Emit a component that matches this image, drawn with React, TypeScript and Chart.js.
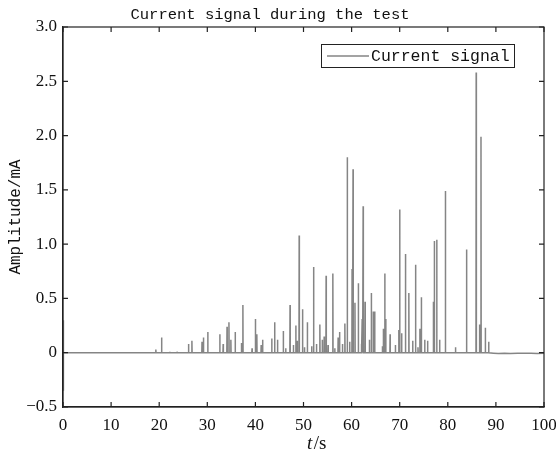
import React, { useEffect, useRef } from 'react';
import { Chart, registerables } from 'chart.js';

Chart.register(...registerables);

const titleText = 'Current signal during the test';
const seriesLabel = 'Current signal';
const yAxisTitle = 'Amplitude/mA';

const xTicks = [0, 10, 20, 30, 40, 50, 60, 70, 80, 90, 100];
const yTicks = [-0.5, 0, 0.5, 1, 1.5, 2, 2.5, 3];
const yTickLabels = ['\u22120.5', '0', '0.5', '1.0', '1.5', '2.0', '2.5', '3.0'];

// start-up transient at t = 0
const startTimes = [0, 0.05, 0.12];
const startValues = [0.3, -0.35, 0];

// discharge spikes (time in s, peak amplitude in mA)
const spikeTimes = [
  19.3, 20.5, 22.2, 23.7, 26.1, 26.8, 28.9, 29.2, 30.1, 32.6, 33.3, 34.1, 34.5, 34.9, 35.8,
  37.1, 37.4, 39.3, 40.0, 40.3, 41.2, 41.5, 43.4, 44.0, 44.6, 45.8, 46.3, 47.2, 47.9, 48.4,
  48.7, 49.1, 49.8, 50.2, 50.8, 51.7, 52.1, 52.7, 53.4, 53.9, 54.3, 54.7, 55.1, 56.1, 56.5,
  57.2, 57.5, 58.1, 58.6, 59.1, 59.6, 60.1, 60.3, 60.7, 61.4, 62.0, 62.2, 62.4, 62.8, 63.7,
  64.1, 64.5, 64.8, 66.4, 66.6, 66.9, 67.1, 68.0, 69.1, 69.8, 70.0, 70.4, 71.2, 71.9, 72.7,
  73.3, 73.8, 74.2, 74.5, 75.2, 75.8, 77.0, 77.2, 77.7, 78.3, 79.5, 81.6, 83.9, 85.9, 86.6,
  86.9, 87.8, 88.5,
];
const spikeValues = [
  0.03, 0.14, 0.01, 0.01, 0.08, 0.11, 0.10, 0.14, 0.19, 0.17, 0.08, 0.24, 0.28, 0.12, 0.19,
  0.09, 0.44, 0.04, 0.31, 0.17, 0.07, 0.12, 0.13, 0.28, 0.12, 0.20, 0.04, 0.44, 0.07, 0.25,
  0.11, 1.08, 0.40, 0.05, 0.28, 0.06, 0.79, 0.08, 0.26, 0.12, 0.15, 0.71, 0.07, 0.73, 0.04,
  0.14, 0.19, 0.08, 0.27, 1.80, 0.10, 0.77, 1.69, 0.46, 0.64, 0.08, 0.31, 1.35, 0.47, 0.12,
  0.55, 0.38, 0.38, 0.06, 0.22, 0.73, 0.31, 0.17, 0.07, 0.21, 1.32, 0.18, 0.91, 0.55, 0.11,
  0.81, 0.05, 0.22, 0.51, 0.12, 0.11, 0.47, 1.03, 1.04, 0.12, 1.49, 0.05, 0.95, 2.58, 0.26,
  1.99, 0.23, 0.10,
];

// slight negative drift of the baseline after the test
const tailTimes = [89.5, 90.5, 91.8, 93.0, 94.5, 96.0, 97.3, 98.6, 100];
const tailValues = [-0.004, -0.008, -0.004, -0.008, -0.004, -0.006, -0.004, -0.008, -0.004];

const lineColor = '#858585';
const axisColor = '#222222';
const textColor = '#111111';

function buildPoints() {
  const pts: { x: number; y: number }[] = [];
  startTimes.forEach((t, i) => pts.push({ x: t, y: startValues[i] }));
  spikeTimes.forEach((t, i) => {
    pts.push({ x: t - 0.04, y: 0 });
    pts.push({ x: t, y: spikeValues[i] });
    pts.push({ x: t + 0.04, y: 0 });
  });
  tailTimes.forEach((t, i) => pts.push({ x: t, y: tailValues[i] }));
  return pts;
}

const framePlugin = {
  id: 'matlabFrame',
  afterDraw(chart: any) {
    const { ctx, chartArea } = chart;
    const { left, right, top, bottom } = chartArea;
    const xs = chart.scales.x;
    const ys = chart.scales.y;
    ctx.save();
    ctx.strokeStyle = axisColor;
    ctx.lineWidth = 1.2;
    ctx.strokeRect(left, top, right - left, bottom - top);
    const tl = 5;
    ctx.beginPath();
    xTicks.forEach((v) => {
      const px = xs.getPixelForValue(v);
      ctx.moveTo(px, bottom);
      ctx.lineTo(px, bottom - tl);
      ctx.moveTo(px, top);
      ctx.lineTo(px, top + tl);
    });
    yTicks.forEach((v) => {
      const py = ys.getPixelForValue(v);
      ctx.moveTo(left, py);
      ctx.lineTo(left + tl, py);
      ctx.moveTo(right, py);
      ctx.lineTo(right - tl, py);
    });
    ctx.stroke();

    // title
    ctx.fillStyle = textColor;
    ctx.font = '15.5px "Liberation Mono"';
    ctx.textAlign = 'center';
    ctx.textBaseline = 'alphabetic';
    ctx.fillText(titleText, 270, 19);

    // y axis title
    ctx.save();
    ctx.translate(16, (top + bottom) / 2);
    ctx.rotate(-Math.PI / 2);
    ctx.font = '16px "Liberation Mono"';
    ctx.textAlign = 'center';
    ctx.textBaseline = 'middle';
    ctx.fillText(yAxisTitle, 0, 0);
    ctx.restore();

    // x axis title: italic t + /s
    ctx.textAlign = 'left';
    ctx.textBaseline = 'alphabetic';
    const fItal = 'italic 19px "Liberation Serif"';
    const fNorm = '19px "Liberation Serif"';
    ctx.font = fItal;
    const wT = ctx.measureText('t').width;
    ctx.font = fNorm;
    const wS = ctx.measureText('/s').width;
    const x0 = 316 - (wT + wS) / 2;
    ctx.font = fItal;
    ctx.fillText('t', x0, 449);
    ctx.font = fNorm;
    ctx.fillText('/s', x0 + wT + 1.5, 449);

    // legend
    const bx = 321, by = 44, bw = 193, bh = 23;
    ctx.fillStyle = '#ffffff';
    ctx.fillRect(bx, by, bw, bh);
    ctx.strokeStyle = axisColor;
    ctx.lineWidth = 1;
    ctx.strokeRect(bx + 0.5, by + 0.5, bw, bh);
    ctx.strokeStyle = lineColor;
    ctx.lineWidth = 1.5;
    ctx.beginPath();
    ctx.moveTo(bx + 6, by + 12);
    ctx.lineTo(bx + 48, by + 12);
    ctx.stroke();
    ctx.fillStyle = textColor;
    ctx.font = '16.5px "Liberation Mono"';
    ctx.textBaseline = 'middle';
    ctx.fillText(chart.data.datasets[0].label, bx + 50, by + 12.5);
    ctx.restore();
  },
};

export default function App() {
  const ref = useRef<HTMLCanvasElement | null>(null);
  useEffect(() => {
    if (!ref.current) return;
    const tickFont = { family: '"Liberation Serif"', size: 17 };
    const chart = new Chart(ref.current, {
      type: 'line',
      data: {
        datasets: [
          {
            label: seriesLabel,
            data: buildPoints(),
            borderColor: lineColor,
            borderWidth: 1.5,
            pointRadius: 0,
            tension: 0,
            fill: false,
          },
        ],
      },
      options: {
        animation: false,
        responsive: false,
        events: [],
        layout: { padding: { top: 27, right: 12, left: 0, bottom: 0 } },
        plugins: {
          legend: { display: false },
          title: { display: false },
          tooltip: { enabled: false },
        },
        scales: {
          x: {
            type: 'linear',
            min: 0,
            max: 100,
            afterBuildTicks: (s: any) => {
              s.ticks = xTicks.map((v) => ({ value: v }));
            },
            afterFit: (s: any) => {
              s.height = 53;
              s.paddingLeft = 0;
              s.paddingRight = 0;
            },
            ticks: {
              font: tickFont,
              color: textColor,
              padding: 8,
              maxRotation: 0,
              autoSkip: false,
              callback: (v: any) => String(v),
            },
            grid: { display: false, drawTicks: false },
            border: { display: true, color: axisColor, width: 1.2 },
          },
          y: {
            type: 'linear',
            min: -0.5,
            max: 3,
            afterBuildTicks: (s: any) => {
              s.ticks = yTicks.map((v) => ({ value: v }));
            },
            afterFit: (s: any) => {
              s.width = 63;
              s.paddingTop = 0;
              s.paddingBottom = 0;
            },
            ticks: {
              font: tickFont,
              color: textColor,
              padding: 6,
              autoSkip: false,
              callback: (v: any) => {
                const i = yTicks.findIndex((t) => Math.abs(t - Number(v)) < 1e-9);
                return i >= 0 ? yTickLabels[i] : '';
              },
            },
            grid: { display: false, drawTicks: false },
            border: { display: true, color: axisColor, width: 1.2 },
          },
        },
      },
      plugins: [framePlugin],
    } as any);
    return () => chart.destroy();
  }, []);

  return (
    <div style={{ position: 'absolute', left: 0, top: 0, width: 556, height: 460, background: '#fff' }}>
      <canvas ref={ref} width={556} height={460} style={{ display: 'block', width: 556, height: 460 }} />
    </div>
  );
}
